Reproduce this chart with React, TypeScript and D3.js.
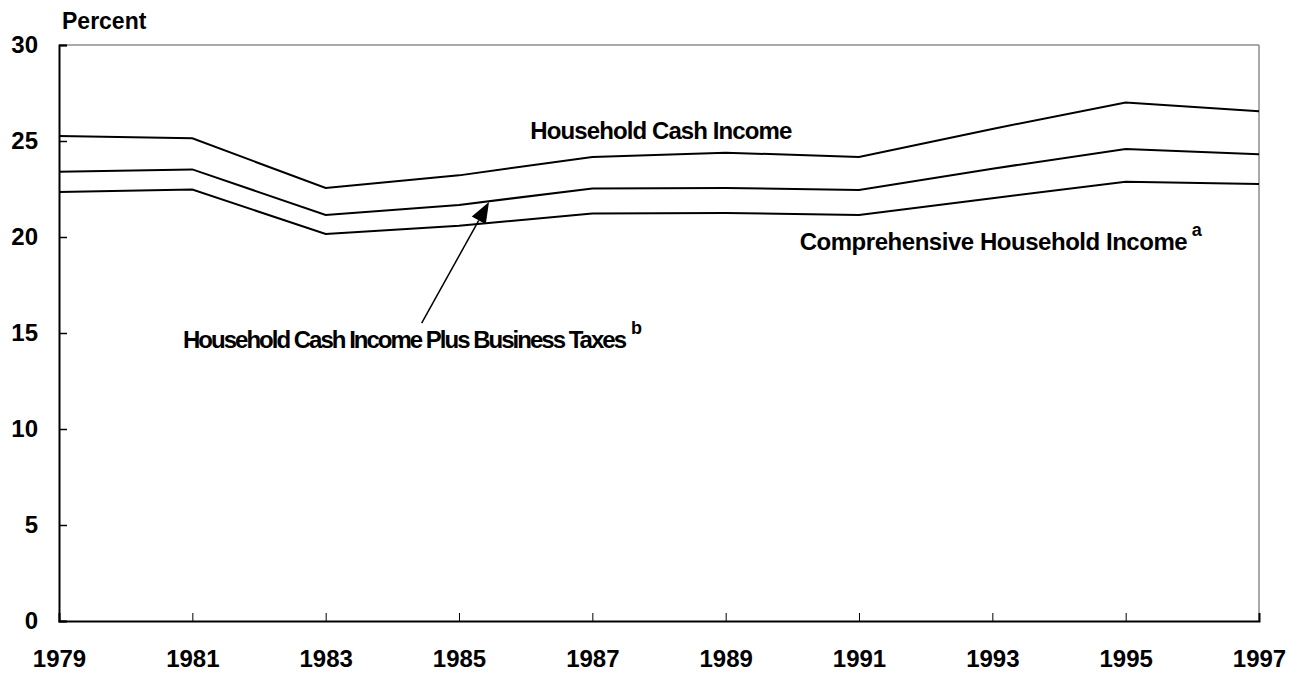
import React, { useEffect, useRef } from "react";
import * as d3 from "d3";

// values (percent)
const years = [1979, 1981, 1983, 1985, 1987, 1989, 1991, 1993, 1995, 1997];
const cashIncome = [25.26, 25.14, 22.55, 23.21, 24.17, 24.39, 24.17, 25.63, 27.0, 26.55];
const cashPlusBusiness = [23.4, 23.52, 21.15, 21.67, 22.53, 22.55, 22.45, 23.56, 24.58, 24.31];
const comprehensive = [22.34, 22.47, 20.16, 20.59, 21.23, 21.25, 21.15, 22.02, 22.88, 22.76];
const yTicks = [0, 5, 10, 15, 20, 25, 30];

const FONT = "'Liberation Sans', Arial, Helvetica, sans-serif";

const App = () => {
  const svgRef = useRef<SVGSVGElement | null>(null);

  useEffect(() => {
    const svg = d3.select(svgRef.current);
    svg.selectAll("*").remove();

    const W = 1299;
    const H = 675;
    const margin = { top: 45, right: 40, bottom: 54, left: 59 };
    const width = W - margin.left - margin.right;
    const height = H - margin.top - margin.bottom;

    svg.attr("width", W).attr("height", H);

    const g = svg
      .append("g")
      .attr("transform", `translate(${margin.left},${margin.top})`)
      .style("font-family", FONT)
      .style("font-weight", "bold");

    const x = d3.scaleLinear().domain([1979, 1997]).range([0, width]);
    const y = d3.scaleLinear().domain([0, 30]).range([height, 0]);

    // frame: top and right in grey
    g.append("line")
      .attr("x1", 0).attr("x2", width)
      .attr("y1", 0).attr("y2", 0)
      .attr("stroke", "#8c8c8c").attr("stroke-width", 1.5);
    g.append("line")
      .attr("x1", width).attr("x2", width)
      .attr("y1", 0).attr("y2", height)
      .attr("stroke", "#8c8c8c").attr("stroke-width", 1.5);

    // y axis (ticks pointing inward)
    const yAxis = g.append("g").call(
      d3.axisLeft(y).tickValues(yTicks).tickSize(-8).tickPadding(21).tickFormat(d3.format("d"))
    );
    yAxis.select(".domain").attr("stroke", "#000").attr("stroke-width", 2);
    yAxis.selectAll(".tick line").attr("stroke", "#000").attr("stroke-width", 1.5);
    yAxis
      .selectAll(".tick text")
      .attr("fill", "#000")
      .style("font-size", "24px")
      .style("font-family", FONT)
      .style("font-weight", "bold");

    // x axis (ticks pointing upward)
    const xAxis = g
      .append("g")
      .attr("transform", `translate(0,${height})`)
      .call(
        d3.axisBottom(x).tickValues(years).tickSize(-8).tickPadding(29).tickFormat(d3.format("d"))
      );
    xAxis.select(".domain").attr("stroke", "#000").attr("stroke-width", 2);
    xAxis.selectAll(".tick line").attr("stroke", "#000").attr("stroke-width", 1);
    xAxis
      .selectAll(".tick text")
      .attr("fill", "#000")
      .style("font-size", "24px")
      .style("font-family", FONT)
      .style("font-weight", "bold");

    // axis title
    g.append("text")
      .attr("x", 3)
      .attr("y", -16)
      .style("font-size", "23px")
      .text("Percent");

    // series lines
    const line = d3
      .line<number>()
      .x((_, i) => x(years[i]))
      .y((d) => y(d));

    [cashIncome, cashPlusBusiness, comprehensive].forEach((vals) => {
      g.append("path")
        .datum(vals)
        .attr("fill", "none")
        .attr("stroke", "#000")
        .attr("stroke-width", 2)
        .attr("d", line);
    });

    // labels
    const label = (txt: string, yr: number, val: number, len: number, sup?: string) => {
      g.append("text")
        .attr("x", x(yr))
        .attr("y", y(val))
        .attr("textLength", len)
        .attr("lengthAdjust", "spacing")
        .style("font-size", "24px")
        .text(txt);
      if (sup) {
        g.append("text")
          .attr("x", x(yr) + len + 4)
          .attr("y", y(val) - 14)
          .style("font-size", "18px")
          .text(sup);
      }
    };

    label("Household Cash Income", 1986.07, 25.1, 262);
    label("Comprehensive Household Income", 1990.11, 19.32, 388, "a");
    label("Household Cash Income Plus Business Taxes", 1980.86, 14.22, 444, "b");

    // arrow to the middle series
    const tail: [number, number] = [x(1984.44), y(15.52)];
    const tip: [number, number] = [x(1985.45), y(21.82)];
    const dx = tip[0] - tail[0];
    const dy = tip[1] - tail[1];
    const len = Math.hypot(dx, dy);
    const ux = dx / len;
    const uy = dy / len;
    const headLen = 21;
    const headHalf = 8;
    const bx = tip[0] - ux * headLen;
    const by = tip[1] - uy * headLen;

    g.append("line")
      .attr("x1", tail[0]).attr("y1", tail[1])
      .attr("x2", bx).attr("y2", by)
      .attr("stroke", "#000").attr("stroke-width", 1.5);
    g.append("path")
      .attr(
        "d",
        `M${tip[0]},${tip[1]}L${bx - uy * headHalf},${by + ux * headHalf}L${bx + uy * headHalf},${by - ux * headHalf}Z`
      )
      .attr("fill", "#000");
  }, []);

  return (
    <svg
      ref={svgRef}
      style={{ position: "absolute", left: 0, top: 0, background: "#fff", display: "block" }}
    />
  );
};

export default App;
